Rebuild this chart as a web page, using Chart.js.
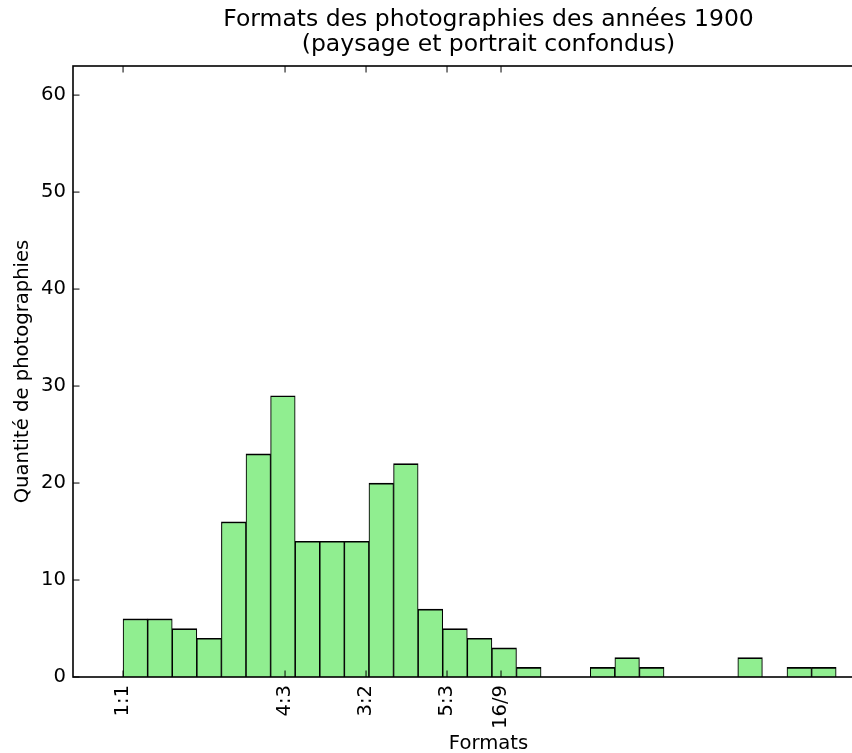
<!DOCTYPE html>
<html lang="fr">
<head>
<meta charset="utf-8">
<title>Formats des photographies des années 1900</title>
<script src="https://cdn.jsdelivr.net/npm/chart.js@4.4.1/dist/chart.umd.min.js"></script>
<style>
  html, body { margin: 0; padding: 0; background: #fff; overflow: hidden; }
  #wrap { width: 904px; height: 753px; }
</style>
</head>
<body>
<div id="wrap"><canvas id="hist" width="904" height="753"></canvas></div>
<script>
// Histogram bins: left edge of the first bin and bin width (ratio units)
const binStart = 1.0;
const binWidth = 0.0506;
const photoCounts = [6, 6, 5, 4, 16, 23, 29, 14, 14, 14, 20, 22, 7, 5, 4, 3, 1, 0, 0, 1, 2, 1, 0, 0, 0, 2, 0, 1, 1];

// Named ratios marked under the x axis
const formatValues = [1, 4 / 3, 3 / 2, 5 / 3, 16 / 9];
const formatLabels = ['1:1', '4:3', '3:2', '5:3', '16/9'];

const countTicks = [0, 10, 20, 30, 40, 50, 60];

const xRange = [0.897, 2.607];
const yRange = [0, 63];

const FONT = 'DejaVu Sans';
Chart.defaults.font.family = FONT;
Chart.defaults.color = '#000';

// Bars sit on bin centres; spacing = bin width so bars touch
const histData = photoCounts.map((count, i) => ({
    x: binStart + (i + 0.5) * binWidth,
    y: count
}));

/**
 * Frame on all sides plus inward tick marks, drawn over the bars
 */
const frameTicks = {
    id: 'frameTicks',
    afterDatasetsDraw(chart) {
        const { ctx, chartArea: a, scales: { x, y } } = chart;
        const len = 6.5;
        ctx.save();
        ctx.strokeStyle = '#000';
        ctx.lineWidth = 1;
        ctx.beginPath();
        x.ticks.forEach(t => {
            const px = x.getPixelForValue(t.value);
            ctx.moveTo(px, a.bottom);
            ctx.lineTo(px, a.bottom - len);
            ctx.moveTo(px, a.top);
            ctx.lineTo(px, a.top + len);
        });
        y.ticks.forEach(t => {
            const py = y.getPixelForValue(t.value);
            ctx.moveTo(a.left, py);
            ctx.lineTo(a.left + len, py);
            ctx.moveTo(a.right, py);
            ctx.lineTo(a.right - len, py);
        });
        ctx.stroke();
        ctx.lineWidth = 1.6;
        ctx.strokeRect(a.left, a.top, a.right - a.left, a.bottom - a.top);
        ctx.restore();
    }
};

new Chart(document.getElementById('hist'), {
    type: 'bar',
    data: {
        datasets: [{
            data: histData,
            backgroundColor: '#90EE90',
            borderColor: '#000',
            borderWidth: { top: 1.7, left: 1.1, right: 1.1, bottom: 0 },
            borderSkipped: false,
            barPercentage: 1,
            categoryPercentage: 1
        }]
    },
    options: {
        responsive: false,
        animation: false,
        layout: { padding: 0 },
        plugins: {
            legend: { display: false },
            tooltip: { enabled: false },
            title: {
                display: true,
                fullSize: false,
                text: ['Formats des photographies des années 1900', '(paysage et portrait confondus)'],
                color: '#000',
                font: { family: FONT, size: 23.5, weight: 'normal', lineHeight: '25px' },
                padding: { top: 7.4, bottom: 8.6 }
            }
        },
        scales: {
            x: {
                type: 'linear',
                offset: false,
                min: xRange[0],
                max: xRange[1],
                grid: { display: false, drawTicks: false },
                border: { display: false },
                afterBuildTicks(scale) {
                    scale.ticks = formatValues.map(v => ({ value: v }));
                },
                afterFit(scale) {
                    scale.height = 76;
                },
                ticks: {
                    autoSkip: false,
                    minRotation: 90,
                    maxRotation: 90,
                    padding: 8,
                    font: { size: 19.6 },
                    callback: (value, index) => formatLabels[index]
                },
                title: {
                    display: true,
                    text: 'Formats',
                    font: { size: 19.6, lineHeight: '20px' },
                    padding: { top: 0, bottom: -1 }
                }
            },
            y: {
                min: yRange[0],
                max: yRange[1],
                grid: { display: false, drawTicks: false },
                border: { display: false },
                afterBuildTicks(scale) {
                    scale.ticks = countTicks.map(v => ({ value: v }));
                },
                afterFit(scale) {
                    scale.width = 73;
                },
                ticks: {
                    padding: 7,
                    font: { size: 19.6 }
                },
                title: {
                    display: true,
                    text: 'Quantité de photographies',
                    font: { size: 19.6, lineHeight: '20px' },
                    padding: { top: 13.2, bottom: 0 }
                }
            }
        }
    },
    plugins: [frameTicks]
});
</script>
</body>
</html>
